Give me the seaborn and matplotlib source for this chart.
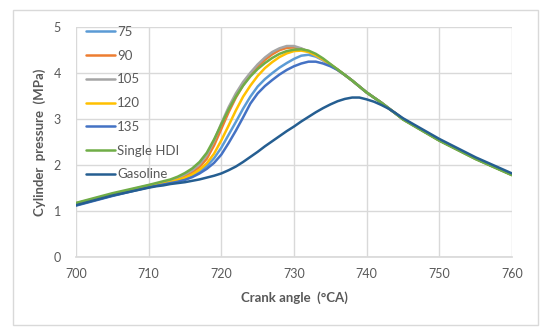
import numpy as np
import pandas as pd
import matplotlib
matplotlib.use("Agg")
import matplotlib.pyplot as plt
import seaborn as sns
from matplotlib.patches import Rectangle

# crank angle (deg CA) shared by all series
crank_angle = [700, 705] + list(range(710, 746)) + [750, 755, 760]

# all DI series merge on the expansion stroke
tail = [3.95, 3.83, 3.70, 3.57, 3.46, 3.35, 3.23, 3.11, 2.99, 2.53, 2.13, 1.78]

p_75 = [1.13, 1.33, 1.52, 1.55, 1.58, 1.61, 1.65, 1.70, 1.76, 1.85, 1.97, 2.14,
        2.37, 2.65, 2.93, 3.22, 3.48, 3.70, 3.86, 3.99, 4.11, 4.21, 4.30, 4.37,
        4.39, 4.35, 4.27, 4.17, 4.07] + tail
p_90 = [1.15, 1.35, 1.54, 1.57, 1.60, 1.64, 1.69, 1.75, 1.83, 1.95, 2.13, 2.42,
        2.78, 3.14, 3.46, 3.73, 3.95, 4.13, 4.28, 4.40, 4.49, 4.54, 4.55, 4.52,
        4.46, 4.38, 4.28, 4.17, 4.06] + tail
p_105 = [1.16, 1.36, 1.55, 1.58, 1.62, 1.66, 1.72, 1.79, 1.88, 2.01, 2.21, 2.52,
         2.90, 3.25, 3.55, 3.80, 4.00, 4.18, 4.33, 4.45, 4.53, 4.58, 4.58, 4.53,
         4.46, 4.37, 4.27, 4.17, 4.06] + tail
p_120 = [1.14, 1.34, 1.53, 1.56, 1.59, 1.62, 1.67, 1.72, 1.79, 1.89, 2.03, 2.24,
         2.53, 2.85, 3.18, 3.48, 3.72, 3.93, 4.10, 4.23, 4.34, 4.42, 4.47, 4.48,
         4.45, 4.38, 4.29, 4.18, 4.07] + tail
p_135 = [1.11, 1.32, 1.51, 1.54, 1.57, 1.60, 1.63, 1.67, 1.73, 1.81, 1.91, 2.04,
         2.22, 2.47, 2.74, 3.03, 3.33, 3.55, 3.71, 3.84, 3.96, 4.06, 4.14, 4.20,
         4.24, 4.24, 4.20, 4.14, 4.06] + tail
p_single = [1.17, 1.38, 1.56, 1.60, 1.64, 1.68, 1.74, 1.82, 1.92, 2.06, 2.26, 2.55,
            2.88, 3.20, 3.48, 3.72, 3.92, 4.08, 4.21, 4.32, 4.41, 4.47, 4.50, 4.51,
            4.48, 4.41, 4.31, 4.19, 4.07, 3.95, 3.83, 3.70, 3.57, 3.46, 3.35, 3.23,
            3.11, 2.98, 2.52, 2.12, 1.77]
p_gasoline = [1.12, 1.33, 1.50, 1.53, 1.55, 1.58, 1.60, 1.62, 1.65, 1.68, 1.72, 1.76,
              1.81, 1.88, 1.96, 2.06, 2.17, 2.28, 2.40, 2.51, 2.62, 2.73, 2.83, 2.94,
              3.04, 3.14, 3.23, 3.31, 3.38, 3.43, 3.46, 3.46, 3.42, 3.37, 3.30, 3.22,
              3.12, 3.01, 2.56, 2.16, 1.81]

series_names = ["75", "90", "105", "120", "135", "Single HDI", "Gasoline"]
series_values = [p_75, p_90, p_105, p_120, p_135, p_single, p_gasoline]
colors = ["#5B9BD5", "#ED7D31", "#A5A5A5", "#FFC000", "#4472C4", "#70AD47", "#255E91"]

x_ticks = [700, 710, 720, 730, 740, 750, 760]
y_ticks = [0, 1, 2, 3, 4, 5]

df = pd.concat([
    pd.DataFrame({"angle": crank_angle, "pressure": vals, "series": name})
    for name, vals in zip(series_names, series_values)
])

sns.set_theme(style="white")
plt.rcParams["font.family"] = ["Lato", "DejaVu Sans"]
text_color = "#595959"
grid_color = "#D9D9D9"

fig = plt.figure(figsize=(5.5, 3.36), dpi=100)
ax = fig.add_axes([76 / 550, 1 - 256.7 / 336, 436 / 550, 230 / 336])

sns.lineplot(data=df, x="angle", y="pressure", hue="series", hue_order=series_names,
             palette=dict(zip(series_names, colors)), linewidth=1.8, sort=False,
             estimator=None, ax=ax)

ax.set_xlim(700, 760)
ax.set_ylim(0, 5)
ax.set_xticks(x_ticks)
ax.set_yticks(y_ticks)
ax.grid(True, color=grid_color, linewidth=1)
ax.set_axisbelow(True)
for side in ["top", "right", "left"]:
    ax.spines[side].set_visible(False)
ax.spines["bottom"].set_color(grid_color)
ax.tick_params(axis="both", length=0, labelsize=9, labelcolor=text_color)
ax.tick_params(axis="y", pad=11)
ax.tick_params(axis="x", pad=8)
ax.set_xlabel("")
ax.set_ylabel("")

fig.text(294 / 550, 1 - 297.5 / 336, "Crank angle  (°CA)", ha="center", va="center",
         fontsize=9.5, fontweight="bold", color=text_color)
fig.text(40 / 550, 1 - 142 / 336, "Cylinder  pressure  (MPa)", ha="center", va="center",
         rotation=90, fontsize=9.5, fontweight="bold", color=text_color)

leg = ax.legend(loc="upper left", bbox_to_anchor=(86 / 550, 1 - 26 / 336),
                bbox_transform=fig.transFigure, frameon=False, fontsize=9.5,
                handlelength=2.2, handletextpad=0.15, labelspacing=0.89,
                borderpad=0, borderaxespad=0)
for t in leg.get_texts():
    t.set_color(text_color)

fig.patches.append(Rectangle((13 / 550, 1 - 325 / 336), 525 / 550, 315 / 336,
                             transform=fig.transFigure, fill=False,
                             edgecolor=grid_color, linewidth=1))

fig.savefig("out.png", dpi=100)
